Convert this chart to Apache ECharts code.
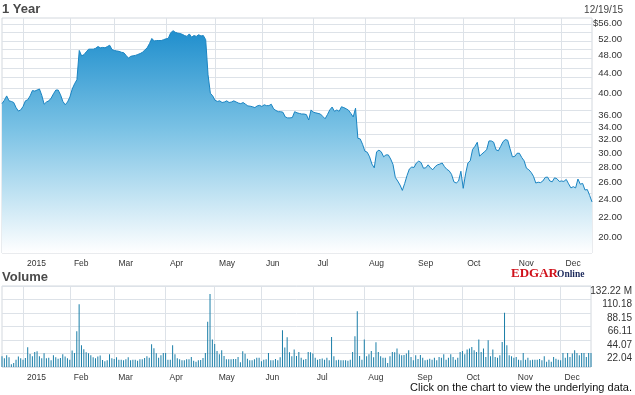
<!DOCTYPE html>
<html>
<head>
<meta charset="utf-8">
<script src="https://cdn.jsdelivr.net/npm/echarts@6/dist/echarts.min.js"></script>
<style>
html,body{margin:0;padding:0;background:#fff;}
#chart{width:635px;height:395px;}
</style>
</head>
<body>
<div id="chart"></div>
<script>
// ---- Data ----
// Trading-day calendar (Dec 18 2014 .. Dec 18 2015), US market holidays excluded
const firstDay = '2014-12-18';
const lastDay = '2015-12-18';
const holidays = ['2014-12-25','2015-01-01','2015-01-19','2015-02-16','2015-04-03',
  '2015-05-25','2015-07-03','2015-09-07','2015-11-26'];
const monthNames = ['2015','Feb','Mar','Apr','May','Jun','Jul','Aug','Sep','Oct','Nov','Dec'];

// Closing price ($), one per trading day
const closePrice = [
 39.1,39.7,40.5,39.6,39.5,39.3,38.4,37.8,38.0,38.6,
 39.6,39.8,40.5,41.5,41.4,41.6,41.8,40.6,39.0,39.4,
 39.6,40.1,40.9,41.6,41.6,40.7,39.5,38.9,39.4,40.3,
 41.8,42.8,43.6,49.8,48.6,48.85,49.5,50.1,50.1,50.1,
 50.3,50.7,50.4,50.5,50.4,50.7,51.0,50.0,49.8,49.7,
 49.6,49.4,49.3,48.7,48.1,48.5,48.6,48.7,48.9,49.1,
 49.4,49.9,50.4,51.4,52.6,52.0,52.1,52.1,52.1,52.3,
 52.5,52.6,53.9,54.5,54.1,53.9,53.8,53.6,53.3,53.1,
 53.7,52.9,53.3,53.1,53.5,53.2,53.3,52.3,44.6,41.0,
 40.5,39.7,39.5,39.6,39.3,39.4,39.6,39.3,39.4,39.6,
 39.4,39.2,39.1,39.3,39.0,38.7,38.65,38.55,38.4,38.7,
 38.8,38.6,38.9,38.75,38.75,39.0,38.2,37.9,37.7,37.7,
 37.6,36.8,36.65,36.65,36.7,37.7,37.5,37.4,37.3,37.3,
 37.2,36.3,38.0,37.6,37.5,37.4,37.3,36.9,36.5,37.2,
 38.0,38.5,37.75,38.0,37.75,38.55,38.4,38.2,37.95,37.4,
 36.8,38.3,33.4,33.3,32.5,31.5,31.35,30.7,29.7,29.2,
 31.4,31.65,31.4,30.7,30.97,30.97,30.4,29.65,27.95,27.5,
 27.0,26.35,27.2,28.2,29.05,29.3,29.25,29.85,30.1,29.9,
 29.15,29.2,29.6,29.2,28.95,29.35,29.6,29.7,29.85,29.35,
 29.0,28.8,28.35,27.4,27.25,27.5,28.75,26.6,28.4,29.85,
 30.15,31.75,32.2,32.8,30.8,31.1,31.4,31.7,33.0,33.0,
 32.8,31.7,31.55,32.2,32.9,33.2,33.1,31.85,30.7,30.75,
 31.2,31.2,30.6,30.15,29.15,28.95,28.6,28.1,27.25,27.35,
 27.3,27.5,27.95,28.0,27.5,27.4,27.9,27.8,27.45,27.5,
 27.45,27.7,27.15,26.65,26.8,26.65,27.75,27.1,27.2,26.4,
 26.45,25.75,25.0
];

// Volume (millions of shares), one per trading day
const volumeM = [
 17.5,14.2,19,15.8,4.4,6.6,12,17,14.2,12,
 14.7,32.2,21.3,17.5,24.6,25.7,17.5,14.2,22.4,14.2,
 15.3,10.9,19.1,15.8,13.6,14.7,20.7,17,14.2,12,
 26.8,23,58.4,102.6,35.5,28.9,24,22.4,19.1,15.8,
 14.2,17,18.6,11.5,9.3,10.9,20.7,14.2,13.1,15.8,
 12,12,10.9,12.6,15.8,10.9,12,12,10.4,12.6,
 12.6,14.7,17.5,15.3,37.1,30.6,22.4,15.3,19.1,23,
 23,12,12,35.5,20.7,14.2,12.6,10.9,10.9,12.6,
 12.6,16.4,10.4,8.7,10.9,11.5,14.7,23,73.7,119,
 44.8,37.7,26.2,20.7,27.3,18,12.6,12.6,12.6,13.1,
 13.1,16.4,7.6,25.7,21.8,13.6,10.9,10.9,12.6,15.3,
 15.3,9.3,12,12.6,23,10.9,10.9,13.1,10.9,15.8,
 60,31.7,48.6,24,17.5,28.4,18,24.6,
 15.3,12,13,24.6,24,22,15.3,12,13,14,
 12,15.3,11,49,17.5,11,12,11,11,11,
 10,12,24.6,50,91,18,12,45,17.5,21,
 26,16,40.4,24.6,17.5,15.3,15.3,6.6,17.5,24.6,
 24,30,21,19,19.7,22,27.3,16.4,11,19,
 13,19.7,15.3,11,12,13.6,12,15.3,11,16.4,
 15.3,21,12,15.3,21,16.4,12,15.3,24.6,26,
 21,28.4,30,32.8,27.3,24.6,45,24.6,30,16.4,
 43.7,17.5,28.4,16.4,15.3,19,41,88.5,35.5,19,
 17.5,15.3,16.4,12,11,23,12,15.3,11,12,
 12,12,13,11,17.5,8.7,12,8.7,16.4,13.6,
 12,11,23,15.3,23,16.4,22,27.3,23,19,
 23,23,16.4,23,23
];

// Axis tick values
const priceGridValues = [22,24,26,28,30,32,34,36,38,40,42,44,46,48,50,52,54,56];
const priceLabelValues = [20,22,24,26,28,30,32,34,36,40,44,48,52,56];
const volumeMax = 132.22;
const volumeSteps = 6;

// ---- Build calendar ----
function buildDates(a, b, hol) {
  const out = [];
  const d = new Date(a + 'T00:00:00Z');
  const end = new Date(b + 'T00:00:00Z');
  while (d <= end) {
    const wd = d.getUTCDay();
    const s = d.toISOString().slice(0, 10);
    if (wd !== 0 && wd !== 6 && hol.indexOf(s) < 0) out.push(s);
    d.setUTCDate(d.getUTCDate() + 1);
  }
  return out;
}
const dates = buildDates(firstDay, lastDay, holidays);

function isMonthStart(index) {
  return index > 0 && dates[index].slice(5, 7) !== dates[index - 1].slice(5, 7);
}

const FONT = 'Liberation Sans, Arial, sans-serif';
const gridColor = '#dde2e8';

function xAxisFor(gi) {
  return {
    type: 'category', gridIndex: gi, data: dates, boundaryGap: false,
    axisLine: { show: false }, axisTick: { show: false },
    axisLabel: {
      interval: function (i) { return isMonthStart(i); },
      formatter: function (v) { return monthNames[parseInt(v.slice(5, 7), 10) - 1]; },
      align: 'left', padding: [0, 0, 0, 4], margin: 6,
      fontSize: 8.5, fontFamily: FONT, color: '#333'
    },
    splitLine: {
      show: true,
      interval: function (i) { return isMonthStart(i); },
      lineStyle: { color: gridColor, width: 1 }
    }
  };
}

const chart = echarts.init(document.getElementById('chart'), null, { renderer: 'canvas' });
chart.setOption({
  animation: false,
  backgroundColor: '#ffffff',
  grid: [
    { left: 2, right: 43, top: 18, height: 235, show: true, borderColor: '#d3d8de', borderWidth: 1, backgroundColor: 'transparent' },
    { left: 2, right: 43, top: 286, height: 81, show: true, borderColor: '#d3d8de', borderWidth: 1, backgroundColor: 'transparent' }
  ],
  xAxis: [xAxisFor(0), xAxisFor(1)],
  yAxis: [
    {
      type: 'log', gridIndex: 0, min: 19.82, max: 57.73,
      axisLine: { show: false },
      axisTick: { show: false, customValues: priceGridValues },
      axisLabel: { show: false, customValues: priceGridValues },
      splitLine: { show: true, lineStyle: { color: gridColor, width: 1 } }
    },
    {
      type: 'log', gridIndex: 0, position: 'right', min: 18.54, max: 57.56,
      axisLine: { show: false },
      axisTick: { show: false, customValues: priceLabelValues },
      axisLabel: {
        customValues: priceLabelValues,
        formatter: function (v) { return (Math.abs(v - 56) < 0.01 ? '$' : '') + Number(v).toFixed(2); },
        align: 'right', margin: 30, fontSize: 9.5, fontFamily: FONT, color: '#333'
      },
      splitLine: { show: false }
    },
    {
      type: 'value', gridIndex: 1, position: 'right', min: 0, max: volumeMax,
      interval: volumeMax / volumeSteps,
      axisLine: { show: false }, axisTick: { show: false },
      axisLabel: {
        formatter: function (v) {
          if (v < 1) return '';
          if (Math.abs(v - volumeMax) < 0.01) return v.toFixed(2) + ' M';
          return v.toFixed(2);
        },
        align: 'right', verticalAlign: 'top', margin: 41, fontSize: 10, fontFamily: FONT, color: '#333'
      },
      splitLine: { show: true, lineStyle: { color: gridColor, width: 1 } }
    }
  ],
  series: [
    {
      type: 'line', xAxisIndex: 0, yAxisIndex: 0, data: closePrice,
      symbol: 'none', silent: true,
      lineStyle: { color: '#1a84c2', width: 1 },
      areaStyle: {
        origin: 'start',
        color: new echarts.graphic.LinearGradient(0, 18, 0, 253, [
          { offset: 0, color: '#1488ca' },
          { offset: 0.48, color: '#7cc3e5' },
          { offset: 1, color: '#ffffff' }
        ], true),
        opacity: 1
      }
    },
    {
      type: 'bar', xAxisIndex: 1, yAxisIndex: 2, data: volumeM,
      barWidth: 1, silent: true,
      itemStyle: { color: '#1a7ea8' }
    }
  ],
  graphic: [
    { type: 'text', x: 2, y: 9.5, style: { text: '1 Year', font: 'bold 13px ' + FONT, fill: '#4a4a4a', textVerticalAlign: 'middle' } },
    { type: 'text', x: 623, y: 10, style: { text: '12/19/15', font: '10px ' + FONT, fill: '#444', textAlign: 'right', textVerticalAlign: 'middle' } },
    { type: 'text', x: 2, y: 277, style: { text: 'Volume', font: 'bold 13px ' + FONT, fill: '#4a4a4a', textVerticalAlign: 'middle' } },
    { type: 'text', x: 511, y: 280, style: { text: 'EDGAR', font: 'bold 13px Liberation Serif, Times New Roman, serif', fill: '#d0111b', textVerticalAlign: 'bottom' } },
    { type: 'text', x: 557, y: 280, style: { text: 'Online', font: 'bold 9.5px Liberation Serif, Times New Roman, serif', fill: '#1c2a5c', textVerticalAlign: 'bottom' } },
    { type: 'text', x: 632, y: 388, style: { text: 'Click on the chart to view the underlying data.', font: '11px ' + FONT, fill: '#111', textAlign: 'right', textVerticalAlign: 'middle' } }
  ]
});
</script>
</body>
</html>
